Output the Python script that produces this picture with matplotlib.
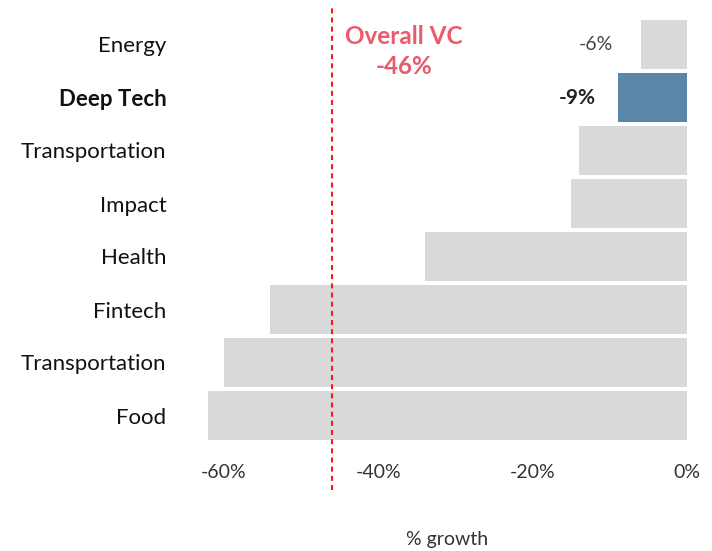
import matplotlib
matplotlib.use("Agg")
import matplotlib.pyplot as plt

plt.rcParams['font.family'] = ['Lato', 'DejaVu Sans']

categories = ["Energy", "Deep Tech", "Transportation", "Impact", "Health",
              "Fintech", "Transportation", "Food"]
growth = [-6, -9, -14, -15, -34, -54, -60, -62]
highlight = "Deep Tech"
overall_vc = -46
labelled = {"Energy": "-6%", "Deep Tech": "-9%"}
xticks = [-60, -40, -20, 0]
xtick_labels = ["-60%", "-40%", "-20%", "0%"]

GRAY = "#d9d9d9"
BLUE = "#5a86a8"
RED_TXT = "#e95b6b"

W, H = 712, 551
fig = plt.figure(figsize=(W / 100, H / 100), dpi=100)
ax_left, ax_right, ax_top, ax_bot = 193, 687, 18, 442
ax = fig.add_axes([ax_left / W, 1 - ax_bot / H, (ax_right - ax_left) / W, (ax_bot - ax_top) / H])

n = len(categories)
ypos = list(range(n))
colors = [BLUE if c == highlight else GRAY for c in categories]
ax.barh(ypos, growth, height=0.93, color=colors, edgecolor="none")
ax.set_ylim(n - 0.5, -0.5)
ax.set_xlim(-64, 0)

ax.set_yticks(ypos)
ax.set_yticklabels(categories, fontsize=16, color="#111111")
for lbl in ax.get_yticklabels():
    if lbl.get_text() == highlight:
        lbl.set_fontweight("bold")
ax.set_xticks(xticks)
ax.set_xticklabels(xtick_labels, fontsize=14, color="#333333")
ax.tick_params(axis="both", length=0)
ax.tick_params(axis="x", pad=16)
ax.tick_params(axis="y", pad=19)
for s in ax.spines.values():
    s.set_visible(False)

for i, (c, v) in enumerate(zip(categories, growth)):
    if c in labelled:
        bold = c == highlight
        ax.annotate(labelled[c], xy=(v, i), xytext=(-16 if bold else -20, 0),
                    textcoords="offset points", ha="right", va="center",
                    fontsize=15 if bold else 14, color="#222222" if bold else "#444444",
                    fontweight="bold" if bold else "normal")

h_px = ax_bot - ax_top
ax.axvline(overall_vc, ymin=-(490 - ax_bot) / h_px, ymax=1 + (ax_top - 5) / h_px,
           color="#ff1a1a", lw=1.5, linestyle=(0, (2.4, 2.0)), clip_on=False)

fig.text(404 / W, 1 - 37 / H, "Overall VC", ha="center", va="center",
         fontsize=17.5, fontweight="bold", color=RED_TXT)
fig.text(404 / W, 1 - 67 / H, f"{overall_vc}%", ha="center", va="center",
         fontsize=17.5, fontweight="bold", color=RED_TXT)

fig.text(447 / W, 1 - 540 / H, "% growth", ha="center", va="center",
         fontsize=14, color="#333333")

fig.savefig("out.png", dpi=100, facecolor="white")
